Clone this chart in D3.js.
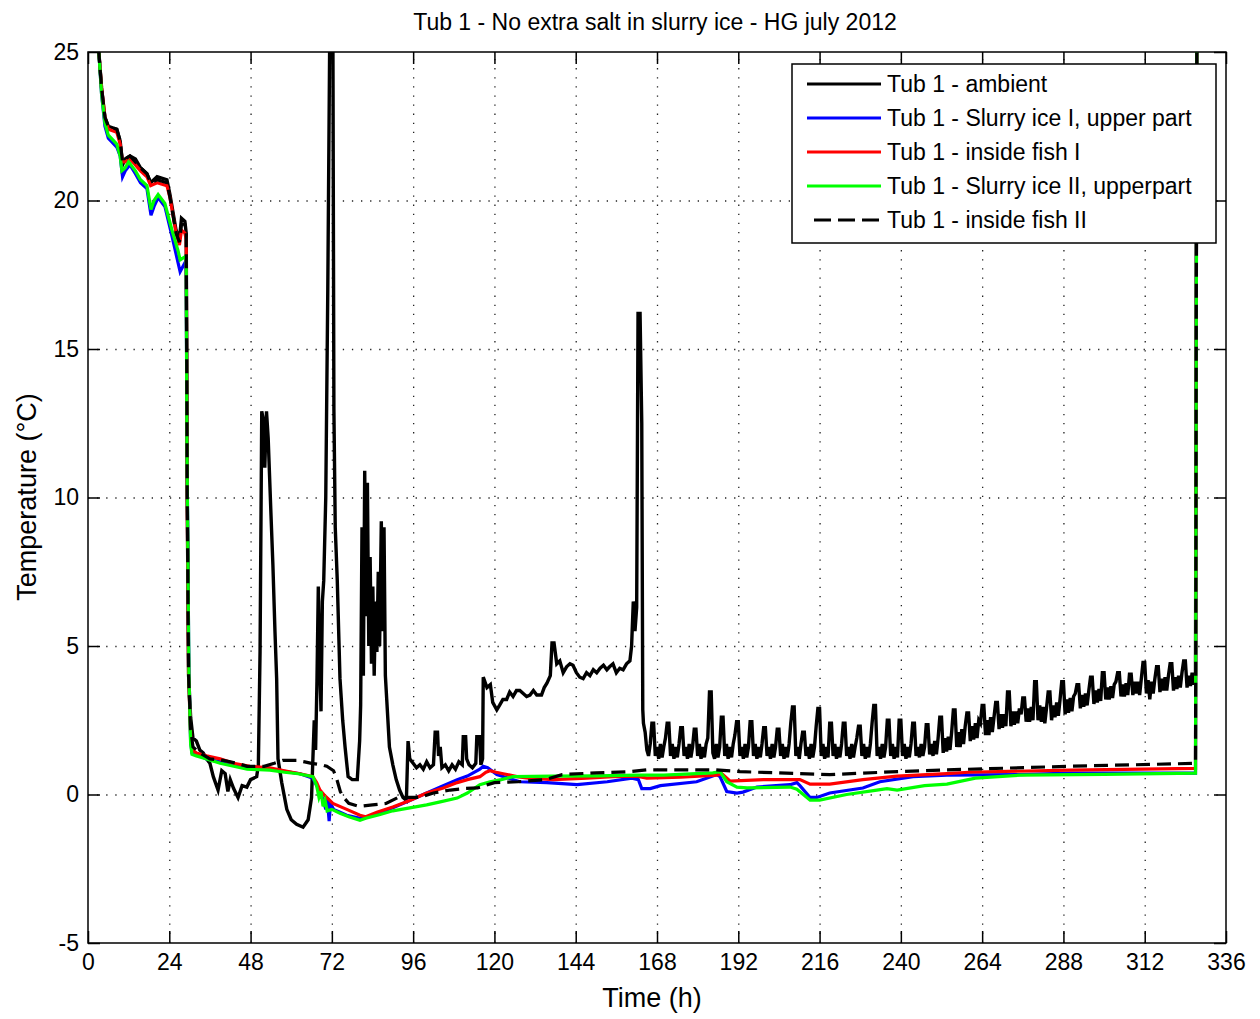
<!DOCTYPE html>
<html>
<head>
<meta charset="utf-8">
<script src="https://cdn.jsdelivr.net/npm/d3@7"></script>
<style>
body { margin: 0; background: #fff; }
text { font-family: "Liberation Sans", Arial, sans-serif; fill: #000; }
</style>
</head>
<body>
<script>
// ---- data (time in hours, temperature in degC) ----
var title_text = "Tub 1 - No extra salt in slurry ice - HG july 2012";
var x_label = "Time (h)";
var y_label = "Temperature (°C)";
var x_ticks = [0, 24, 48, 72, 96, 120, 144, 168, 192, 216, 240, 264, 288, 312, 336];
var y_ticks = [-5, 0, 5, 10, 15, 20, 25];
var series_names = ["Tub 1 - ambient", "Tub 1 - Slurry ice I, upper part", "Tub 1 - inside fish I",
	"Tub 1 - Slurry ice II, upperpart", "Tub 1 - inside fish II"];

// ambient: irregular part
var ambient_early = [
	[2,25.8],[3.2,25],[4,23.8],[5,22.8],[6,22.5],[8.5,22.4],[9.5,22.0],[10.2,21.2],[11,21.4],[12.4,21.5],
	[14,21.4],[15.5,21.1],[17.4,20.9],[18.5,20.6],[20.4,20.8],[23.3,20.7],[24.2,20.2],[25.1,19.6],[26,19.0],[27,18.7],
	[27.6,19.4],[28.6,19.3],[29,18.9],[29.3,10],[29.7,4],[30.3,2.6],[31,1.9],[32,1.8],[33,1.5],[34,1.4],
	[35,1.2],[36,1.05],[37,0.6],[38.4,0.15],[39.5,0.8],[40.5,0.7],[41.3,0.1],[42,0.5],[43,0.2],[44.3,-0.1],
	[45.5,0.3],[46.9,0.25],[48,0.5],[49.8,0.6],[50.3,1.0],[50.8,4.8],[51.3,12.9],[51.8,12.6],[52.2,11.0],[52.7,12.9],
	[53.2,12.0],[54,9.5],[54.6,7.7],[55.2,5.5],[55.7,3.9],[56.1,1.2],[57.2,0.4],[58.7,-0.5],[60,-0.85],[61.6,-1.0],
	[63.5,-1.1],[65,-0.85],[66,-0.1],[66.4,1.2],[66.8,2.5],[67.2,1.5],[67.6,3.8],[68,7.0],[68.4,4.5],[68.8,2.8],
	[69.2,6.5],[69.6,7.2],[70.2,10],[70.8,17],[71.4,26],[72.3,26],[72.6,13],[73,9],[73.6,7.2],[74.4,3.9],
	[75.2,2.5],[75.9,1.6],[76.8,0.6],[78,0.5],[79.5,0.5],[80.2,1.8],[80.5,3],[80.9,9],[81.3,4],[81.7,10.9],
	[82.1,6],[82.5,10.5],[82.9,5],[83.3,8],[83.7,4.4],[84.1,7],[84.5,4],[84.9,6.5],[85.3,4.8],[85.7,7.5],
	[86.1,5],[86.6,9.2],[87,5.5],[87.4,9],[87.8,4],[88.2,3.2],[89,1.6],[90,1.0],[91,0.5],[92,0.15],
	[93,-0.1],[94,-0.2],[94.5,1.8],[95,1.2],[96,1.05],[97,0.9],[98,1.0],[99,0.85],[100,1.1],[101,0.9],
	[102,1.0],[102.5,2.1],[103.2,2.1],[103.5,1.3],[104,1.6],[104.5,0.9],[105.5,1.0],[106.5,0.8],[107.5,1.0],[108.5,0.85],
	[109.5,1.1],[110.5,1.0],[110.8,1.95],[111.5,1.95],[111.8,1.2],[112.5,1.0],[113.5,0.9],[114.5,1.05],[114.8,1.95],[115.6,1.95],
	[116,1.0],[116.5,1.2],[116.7,3.95],[117.8,3.6],[118.8,3.7],[119.5,3.1],[120.7,2.85],[121.5,3.0],[122.5,3.2],[123.6,3.2],
	[124.5,3.45],[125.5,3.3],[126.5,3.5],[127.5,3.5],[128.5,3.4],[129.5,3.3],[130.5,3.35],[131.5,3.5],[132.5,3.35],[133.9,3.35],
	[134.7,3.6],[135.5,3.75],[136.5,4.0],[137.0,5.1],[137.6,5.1],[138.4,4.4],[139.3,4.5],[140.3,4.1],[141.3,4.3],[142.3,4.4],
	[143.2,4.35],[144.2,4.1],[145.2,3.95],[146.2,3.9],[147.2,4.1],[148.2,4.0],[149.2,4.2],[150.2,4.1],[151.2,4.25],[152.2,4.35],
	[153.2,4.2],[154,4.3],[155,4.4],[156,4.1],[157,4.25],[158,4.2],[159,4.4],[160,4.5],[160.5,5.0],[161,6.5],
	[161.5,5.5],[162,6.3],[162.4,16.2],[163,16.2],[163.5,12.5],[163.8,2.85]
];
// ambient: logged every half hour from 164 h to 327 h
var ambient_start = 164, ambient_step = 0.5;
var ambient_late = [
	2.4,2.1,1.5,1.3,1.7,2.4,2.4,1.3,1.6,1.2,
	1.7,1.25,1.6,1.9,2.4,2.4,1.3,1.7,1.2,1.6,
	1.25,1.7,2.25,2.25,1.3,1.6,1.2,1.7,1.25,1.6,
	2.2,2.2,1.3,1.7,1.2,1.6,1.25,1.7,1.9,3.45,
	3.45,1.4,1.2,1.7,1.25,1.6,2.6,2.6,1.3,1.7,
	1.2,1.6,1.25,1.7,2.0,2.45,2.45,1.3,1.6,1.2,
	1.7,1.25,1.6,2.45,2.45,1.3,1.7,1.2,1.6,1.25,
	1.7,2.25,2.25,1.3,1.6,1.2,1.7,1.25,1.6,2.2,
	2.2,1.3,1.7,1.2,1.6,1.25,1.7,2.4,2.95,2.95,
	1.3,1.6,1.2,1.7,2.1,2.1,1.3,1.6,1.2,1.7,
	1.25,1.6,2.3,2.9,2.9,1.3,1.7,1.2,1.6,1.25,
	2.4,2.4,1.3,1.7,1.2,1.6,1.25,1.7,2.4,2.4,
	1.3,1.6,1.2,1.7,1.25,1.6,1.9,2.3,2.3,1.3,
	1.7,1.2,1.6,1.25,1.7,2.4,3.0,3.0,1.3,1.6,
	1.2,1.7,1.25,1.6,2.5,2.5,1.3,1.7,1.2,1.6,
	1.25,2.5,2.5,1.3,1.7,1.2,1.6,1.25,1.7,2.4,
	2.4,1.3,1.6,1.25,1.7,1.3,1.6,2.35,2.35,1.35,
	1.7,1.3,1.8,1.35,1.9,2.6,2.6,1.4,1.9,1.45,
	1.95,1.5,2.1,2.85,2.85,1.6,2.1,1.6,2.2,1.7,
	2.3,2.75,2.75,1.8,2.3,1.85,2.4,1.9,2.5,2.4,
	3.0,3.0,2.0,2.5,2.0,2.6,2.1,2.6,3.1,3.1,
	2.2,2.7,2.25,2.7,2.3,3.45,3.45,2.3,2.8,2.35,
	2.8,2.4,2.9,2.7,3.25,3.25,2.45,2.9,2.45,2.95,
	2.5,3.8,3.8,2.5,3.0,2.45,2.95,2.4,2.9,3.45,
	3.45,2.5,3.0,2.6,3.1,2.65,3.2,3.8,3.8,2.7,
	3.2,2.75,3.25,2.8,3.3,3.4,3.7,3.7,2.9,3.35,
	2.95,3.4,3.0,3.5,3.95,3.95,3.05,3.5,3.1,3.55,
	3.15,4.1,4.1,3.2,3.6,3.2,3.65,3.25,3.7,3.8,
	4.1,4.1,3.3,3.7,3.3,3.75,3.35,4.05,4.05,3.35,
	3.8,3.4,3.8,3.35,3.9,4.45,4.45,3.4,3.85,3.2,
	3.8,3.4,3.9,4.3,4.3,3.45,3.9,3.5,3.95,3.5,
	4.0,4.4,4.4,3.5,3.95,3.55,4.0,3.6,4.1,4.5,
	4.5,3.6,4.0,3.65,4.1,3.7,4.0
];
var ambient_end = [[327.4,27]];

var slurry1 = [
	[2,25.8],[3.2,25],[4,23.6],[5,22.5],[6,22.1],[8.5,21.8],[9.5,21.5],[10.2,20.8],[11,21.0],[12.4,21.2],
	[14,20.9],[15.5,20.6],[17.4,20.4],[18.6,19.5],[19.5,19.8],[20.7,20.1],[22.7,19.8],[24.8,18.8],[26.6,17.9],[27.2,17.6],
	[28.6,17.9],[29,17.8],[29.2,12],[29.5,8],[29.8,4],[30.3,1.8],[30.7,1.4],[32,1.35],[35,1.2],[39,1.1],
	[43,1.0],[47.8,0.9],[53.7,0.85],[58,0.78],[62.6,0.7],[66.4,0.55],[67.5,0.3],[68.5,0.1],[69.5,-0.2],[70.2,-0.5],
	[70.6,-0.1],[71.2,-0.9],[71.6,-0.3],[72.5,-0.5],[74.4,-0.6],[76.4,-0.7],[80.3,-0.8],[82,-0.78],[85.3,-0.65],[90,-0.45],
	[95,-0.2],[98,-0.05],[100,0.05],[104.9,0.3],[109,0.5],[112,0.62],[115.7,0.85],[116.7,0.95],[118,0.9],[120.7,0.67],
	[127.5,0.43],[135.5,0.4],[144.4,0.33],[153.3,0.43],[160.6,0.55],[162.5,0.5],[163.5,0.2],[166,0.2],[169,0.3],[179.7,0.43],
	[185.7,0.67],[186.6,0.6],[188.6,0.1],[191.6,0.05],[193.4,0.08],[197.5,0.25],[207.3,0.33],[209.3,0.4],[210.2,0.3],[213.2,-0.1],
	[215.2,-0.1],[219,0.05],[228.8,0.22],[233.8,0.43],[243.6,0.6],[253.6,0.65],[275,0.67],[290,0.72],[327,0.72],[327.4,27]
];
var fish1 = [
	[2,25.8],[3.2,25],[4,23.8],[5,22.8],[6,22.4],[8.5,22.3],[9.5,21.9],[10.2,21.3],[11,21.3],[12.4,21.4],
	[14,21.2],[15.5,21.0],[17.4,20.8],[18.5,20.5],[20.4,20.6],[23.3,20.5],[24.2,20.1],[25.1,19.5],[26,18.9],[27,18.5],
	[27.6,19.0],[28.6,18.9],[29,18.7],[29.3,10],[29.7,4],[30.3,2.0],[30.7,1.5],[32,1.4],[35,1.3],[39,1.2],
	[43,1.05],[47.8,0.95],[53.7,0.9],[58,0.8],[62.6,0.7],[66.4,0.6],[67.5,0.4],[68.5,0.15],[70,-0.05],[72.3,-0.3],
	[76.4,-0.5],[80.3,-0.7],[82,-0.75],[85.3,-0.6],[90,-0.42],[95,-0.2],[98,-0.05],[100,0.05],[104.9,0.22],[109,0.4],
	[112,0.5],[115.7,0.6],[117.5,0.75],[118.7,0.8],[120.5,0.75],[122.6,0.7],[126.6,0.6],[130,0.55],[137.4,0.5],[147.3,0.55],
	[155,0.6],[162,0.62],[165,0.55],[175,0.58],[185.7,0.65],[187.2,0.7],[189.6,0.45],[199.4,0.5],[210.2,0.5],[213.2,0.35],
	[219,0.35],[228.8,0.5],[238.9,0.62],[253.6,0.7],[260,0.75],[290,0.82],[327,0.88],[327.4,27]
];
var slurry2 = [
	[2,25.8],[3.2,25],[4,23.6],[5,22.6],[6,22.2],[8.5,21.9],[9.5,21.5],[10,21.0],[11,21.1],[12,21.3],
	[14,21.0],[15.5,20.7],[17.4,20.5],[18.6,19.7],[19.5,20.0],[20.7,20.2],[22.7,19.9],[24.8,19.0],[26.6,18.3],[27.2,18.0],
	[28.6,18.1],[29,18.0],[29.2,12],[29.5,8],[29.8,4],[30.3,1.7],[30.7,1.35],[32,1.3],[35,1.2],[39,1.05],
	[43,0.95],[47,0.85],[53.7,0.82],[58,0.75],[62,0.7],[66.4,0.6],[67.5,0.3],[68.2,-0.1],[68.8,0.1],[69.4,-0.4],
	[70,-0.2],[70.6,-0.55],[72,-0.5],[74.4,-0.63],[77,-0.75],[80.3,-0.87],[82,-0.8],[86,-0.68],[90,-0.55],[95,-0.45],
	[100,-0.35],[104,-0.25],[109,-0.12],[112,0.05],[115.7,0.33],[118.7,0.43],[122,0.5],[125.5,0.6],[137,0.62],[150,0.63],
	[162,0.65],[170,0.65],[184.5,0.73],[186.6,0.77],[188.6,0.43],[191.6,0.25],[194.6,0.22],[207.3,0.25],[209.3,0.18],[211.2,0.0],
	[213.2,-0.19],[216,-0.19],[224,0.0],[232.9,0.15],[235.9,0.2],[238.9,0.15],[247,0.3],[253.6,0.35],[262,0.55],[275,0.65],
	[300,0.68],[327,0.72],[327.4,27]
];
var fish2 = [
	[2,25.8],[3.2,25],[4,23.8],[5,22.8],[6,22.5],[8.5,22.4],[9.5,22.0],[10.2,21.3],[11,21.4],[12.4,21.5],
	[14,21.3],[15.5,21.1],[17.4,20.9],[18.5,20.6],[20.4,20.7],[23.3,20.6],[24.2,20.1],[25.1,19.5],[26,18.9],[27,18.6],
	[27.6,19.2],[28.6,19.2],[29,19.0],[29.3,10],[29.7,4],[30.3,2.2],[31,1.6],[33,1.4],[36,1.2],[40,1.15],
	[44,1.05],[47,0.95],[52,0.95],[55,1.05],[57.5,1.15],[61.6,1.15],[64,1.1],[66,1.05],[69,1.0],[70.5,0.95],
	[72.5,0.8],[73.5,0.5],[74.5,0.1],[75.5,-0.1],[77,-0.3],[80,-0.4],[84,-0.35],[88,-0.3],[91.5,-0.1],[96,-0.1],
	[98,-0.1],[102,0.05],[107,0.15],[111,0.2],[115,0.22],[120,0.4],[127,0.43],[135,0.5],[140,0.67],[150,0.73],
	[160,0.77],[165,0.83],[185,0.83],[192.5,0.77],[219,0.67],[239,0.77],[253.6,0.83],[290,0.95],[327,1.05],[327.4,27]
];

// ---- build ambient (early pairs + half-hourly log) ----
var ambient = ambient_early.slice();
ambient_late.forEach(function(v, i){
	ambient.push([ambient_start + i * ambient_step, v]);
});
ambient = ambient.concat(ambient_end);

var all_series = [ambient, slurry1, fish1, slurry2, fish2];
var series_style = [
	{color: "#000000", dash: null, width: 3.4},
	{color: "#0000ff", dash: null, width: 3.2},
	{color: "#ff0000", dash: null, width: 3.2},
	{color: "#00ff00", dash: null, width: 3.2},
	{color: "#000000", dash: "14,7", width: 3.2}
];

// ---- layout ----
var W = 1260, H = 1019;
var box = {left: 88, right: 1226, top: 52, bottom: 943};

var svg = d3.select("body").append("svg")
	.attr("width", W)
	.attr("height", H)
	.style("display", "block");

svg.append("rect").attr("width", W).attr("height", H).attr("fill", "#fff");

var xScale = d3.scaleLinear().domain([0, 336]).range([box.left, box.right]);
var yScale = d3.scaleLinear().domain([-5, 25]).range([box.bottom, box.top]);

// グリッド線(点線)
svg.append("g").attr("class", "grid")
	.attr("transform", "translate(0," + box.bottom + ")")
	.call(d3.axisBottom(xScale).tickValues(x_ticks.slice(1, -1)).tickSize(-(box.bottom - box.top)).tickFormat(""));
svg.append("g").attr("class", "grid")
	.attr("transform", "translate(" + box.left + ",0)")
	.call(d3.axisLeft(yScale).tickValues(y_ticks.slice(1, -1)).tickSize(-(box.right - box.left)).tickFormat(""));
svg.selectAll(".grid .domain").remove();
svg.selectAll(".grid line")
	.attr("stroke", "#222")
	.attr("stroke-width", 1.3)
	.attr("stroke-dasharray", "1.3,7.8");

// clip
svg.append("clipPath").attr("id", "plotclip")
	.append("rect")
	.attr("x", box.left).attr("y", box.top)
	.attr("width", box.right - box.left).attr("height", box.bottom - box.top);

var line = d3.line()
	.x(function(d){ return xScale(d[0]); })
	.y(function(d){ return yScale(d[1]); })
	.curve(d3.curveLinear);

var plot = svg.append("g").attr("clip-path", "url(#plotclip)");
all_series.forEach(function(s, i){
	plot.append("path")
		.datum(s)
		.attr("fill", "none")
		.attr("stroke", series_style[i].color)
		.attr("stroke-width", series_style[i].width)
		.attr("stroke-linejoin", "miter")
		.attr("stroke-dasharray", series_style[i].dash)
		.attr("d", line);
});

// 軸(目盛りは内向き)
var tickLen = 12;
var plainFmt = function(d){ return String(d); }; // "-5" はハイフンで
var axB = svg.append("g")
	.attr("transform", "translate(0," + box.bottom + ")")
	.call(d3.axisBottom(xScale).tickValues(x_ticks).tickSize(-tickLen).tickPadding(11).tickFormat(plainFmt));
var axT = svg.append("g")
	.attr("transform", "translate(0," + box.top + ")")
	.call(d3.axisTop(xScale).tickValues(x_ticks).tickSize(-tickLen).tickFormat(""));
var axL = svg.append("g")
	.attr("transform", "translate(" + box.left + ",0)")
	.call(d3.axisLeft(yScale).tickValues(y_ticks).tickSize(-tickLen).tickPadding(9).tickFormat(plainFmt));
var axR = svg.append("g")
	.attr("transform", "translate(" + box.right + ",0)")
	.call(d3.axisRight(yScale).tickValues(y_ticks).tickSize(-tickLen).tickFormat(""));
[axB, axT, axL, axR].forEach(function(a){
	a.select(".domain").remove();
	a.selectAll("line").attr("stroke", "#000").attr("stroke-width", 1.5);
	a.selectAll("text")
		.attr("font-family", "'Liberation Sans', Arial, sans-serif")
		.attr("font-size", 23)
		.attr("fill", "#000");
});

// 枠線
svg.append("rect")
	.attr("x", box.left).attr("y", box.top)
	.attr("width", box.right - box.left).attr("height", box.bottom - box.top)
	.attr("fill", "none")
	.attr("stroke", "#000")
	.attr("stroke-width", 1.5);

// タイトル・軸ラベル
svg.append("text")
	.attr("x", 655).attr("y", 30)
	.attr("text-anchor", "middle")
	.attr("font-size", 23)
	.text(title_text);
svg.append("text")
	.attr("x", 652).attr("y", 1007)
	.attr("text-anchor", "middle")
	.attr("font-size", 27)
	.text(x_label);
svg.append("text")
	.attr("transform", "translate(36,497) rotate(-90)")
	.attr("text-anchor", "middle")
	.attr("font-size", 27)
	.text(y_label);

// 凡例
var legend = svg.append("g");
legend.append("rect")
	.attr("x", 792).attr("y", 64)
	.attr("width", 424).attr("height", 179)
	.attr("fill", "#fff")
	.attr("stroke", "#000")
	.attr("stroke-width", 1.5);
series_names.forEach(function(name, i){
	var yy = 84 + i * 34;
	legend.append("line")
		.attr("x1", 807).attr("x2", 881)
		.attr("y1", yy).attr("y2", yy)
		.attr("stroke", series_style[i].color)
		.attr("stroke-width", 3)
		.attr("stroke-dasharray", series_style[i].dash ? "17,7" : null)
		.attr("stroke-dashoffset", series_style[i].dash ? -7 : null);
	legend.append("text")
		.attr("x", 887).attr("y", yy)
		.attr("dy", "0.35em")
		.attr("font-size", 23)
		.text(name);
});
</script>
</body>
</html>
